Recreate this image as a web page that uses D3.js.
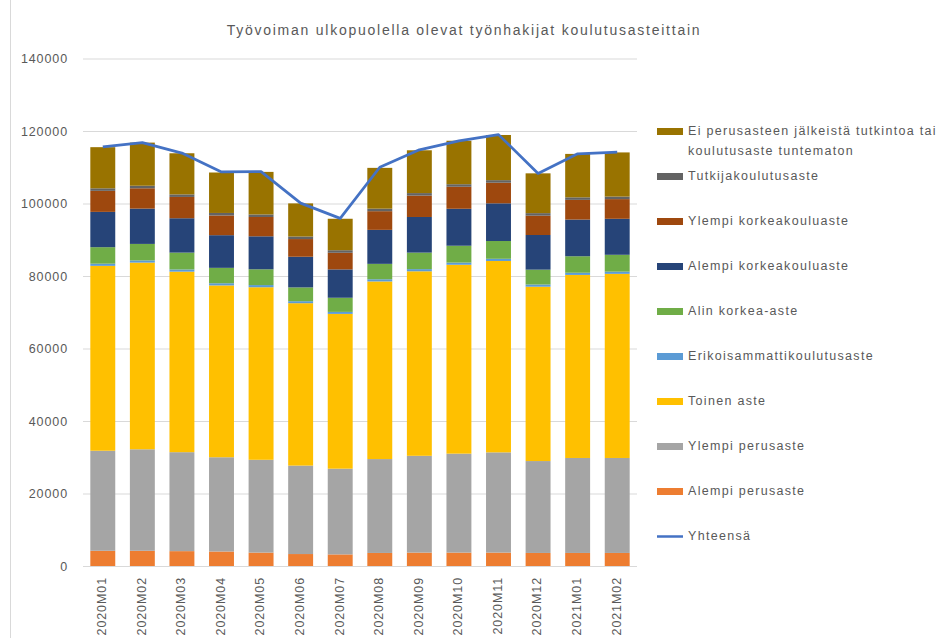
<!DOCTYPE html>
<html>
<head>
<meta charset="utf-8">
<script src="https://cdn.jsdelivr.net/npm/d3@7"></script>
<style>
  body { margin: 0; background: #fff; }
  text { font-family: "Liberation Sans", "DejaVu Sans", sans-serif; fill: #595959; }
</style>
</head>
<body>
<svg id="viz" width="946" height="638"></svg>
<script>
// ----------------------- DATA
const months = ['2020M01', '2020M02', '2020M03', '2020M04', '2020M05', '2020M06', '2020M07',
  '2020M08', '2020M09', '2020M10', '2020M11', '2020M12', '2021M01', '2021M02'];

// stack order bottom -> top
const alempiPerus = [4200, 4200, 4100, 4000, 3700, 3300, 3200, 3600, 3700, 3700, 3700, 3600, 3600, 3600];
const ylempiPerus = [27600, 28000, 27300, 26000, 25600, 24400, 23650, 25900, 26700, 27300, 27650, 25350, 26200, 26200];
const toinenAste = [51000, 51500, 49800, 47400, 47600, 44800, 42700, 49000, 50900, 52100, 52800, 48100, 50500, 50800];
const erikoisammatti = [600, 600, 600, 600, 600, 550, 550, 600, 600, 600, 600, 600, 600, 600];
const alinKorkea = [4550, 4550, 4650, 4250, 4350, 3800, 3900, 4250, 4550, 4650, 4900, 4100, 4550, 4650];
const alempiKorkea = [9740, 9740, 9480, 9010, 9100, 8460, 7820, 9380, 9830, 10200, 10400, 9560, 10120, 9930];
const ylempiKorkea = [5800, 5610, 5880, 5430, 5330, 4880, 4590, 5150, 5890, 6070, 5690, 5330, 5430, 5430];
const tutkija = [700, 700, 700, 700, 700, 700, 700, 700, 700, 700, 700, 700, 700, 700];
const eiPerus = [11350, 11900, 11350, 11160, 11740, 9140, 8680, 11250, 11810, 11990, 12460, 10980, 11980, 12180];
const yhteensa = [115600, 116800, 113900, 108700, 108800, 100100, 95900, 110000, 114800, 117300, 119000, 108300, 113700, 114200];

const yTicks = [0, 20000, 40000, 60000, 80000, 100000, 120000, 140000];

const series = [
  { name: 'Alempi perusaste', values: alempiPerus, color: '#ED7D31' },
  { name: 'Ylempi perusaste', values: ylempiPerus, color: '#A5A5A5' },
  { name: 'Toinen aste', values: toinenAste, color: '#FFC000' },
  { name: 'Erikoisammattikoulutusaste', values: erikoisammatti, color: '#5B9BD5' },
  { name: 'Alin korkea-aste', values: alinKorkea, color: '#70AD47' },
  { name: 'Alempi korkeakouluaste', values: alempiKorkea, color: '#264478' },
  { name: 'Ylempi korkeakouluaste', values: ylempiKorkea, color: '#9E480E' },
  { name: 'Tutkijakoulutusaste', values: tutkija, color: '#636363' },
  { name: 'Ei perusasteen jälkeistä tutkintoa tai|koulutusaste tuntematon', values: eiPerus, color: '#997300' }
];
const lineColor = '#4472C4';

// ----------------------- SETTINGS
const plot = { left: 83, right: 637, top: 58.5, bottom: 566 };

const svg = d3.select('#viz');

// chart frame (left edge visible)
svg.append('line')
  .attr('x1', 10.5).attr('x2', 10.5)
  .attr('y1', 0).attr('y2', 638)
  .attr('stroke', '#d9d9d9');

// title
svg.append('text')
  .attr('x', 464).attr('y', 31)
  .attr('text-anchor', 'middle')
  .attr('dominant-baseline', 'middle')
  .style('font-size', '14px')
  .style('letter-spacing', '1.75px')
  .text('Työvoiman ulkopuolella olevat työnhakijat koulutusasteittain');

// ----------------------- SCALES
const x = d3.scaleBand()
  .domain(months)
  .range([plot.left, plot.right])
  .paddingInner(0.37)
  .paddingOuter(0.185);

const y = d3.scaleLinear()
  .domain([0, 140000])
  .range([plot.bottom, plot.top]);

// y axis with gridlines
const yAxis = d3.axisLeft(y)
  .tickValues(yTicks)
  .tickSize(-(plot.right - plot.left))
  .tickPadding(15)
  .tickFormat(d3.format('d'));

const yg = svg.append('g')
  .attr('transform', `translate(${plot.left}, 0)`)
  .call(yAxis);
yg.select('.domain').remove();
yg.selectAll('line').attr('stroke', '#d9d9d9');
yg.selectAll('text')
  .style('font-size', '12.5px')
  .style('letter-spacing', '0.9px')
  .style('font-family', '"Liberation Sans", sans-serif')
  .attr('fill', '#595959');

// ----------------------- STACKED BARS
const table = months.map((m, i) => {
  const row = { month: m };
  series.forEach(s => { row[s.name] = s.values[i]; });
  return row;
});
const stacked = d3.stack().keys(series.map(s => s.name))(table);

svg.append('g').selectAll('g')
  .data(stacked)
  .enter().append('g')
  .attr('fill', (d, i) => series[i].color)
  .selectAll('rect')
  .data(d => d)
  .enter().append('rect')
  .attr('x', d => x(d.data.month))
  .attr('y', d => y(d[1]))
  .attr('height', d => y(d[0]) - y(d[1]))
  .attr('width', x.bandwidth());

// x baseline
svg.append('line')
  .attr('x1', plot.left).attr('x2', plot.right)
  .attr('y1', plot.bottom + 0.5).attr('y2', plot.bottom + 0.5)
  .attr('stroke', '#d9d9d9');

// ----------------------- TOTAL LINE
const line = d3.line()
  .x((d, i) => x(months[i]) + x.bandwidth() / 2)
  .y(d => y(d));

svg.append('path')
  .datum(yhteensa)
  .attr('d', line)
  .attr('fill', 'none')
  .attr('stroke', lineColor)
  .attr('stroke-width', 2.75)
  .attr('stroke-linejoin', 'round');

// x labels (rotated)
svg.append('g').selectAll('text')
  .data(months)
  .enter().append('text')
  .attr('transform', d => `translate(${x(d) + x.bandwidth() / 2}, 577) rotate(-90)`)
  .attr('text-anchor', 'end')
  .attr('dominant-baseline', 'middle')
  .style('font-size', '12.5px')
  .style('letter-spacing', '0.9px')
  .text(d => d);

// ----------------------- LEGEND
const legendItems = series.slice().reverse();
const legendY0 = 131.5, legendStep = 45;

const legend = svg.append('g');
legendItems.forEach((s, i) => {
  const yy = legendY0 + (i === 0 ? 0 : 45 + (i - 1) * legendStep);
  legend.append('rect')
    .attr('x', 657).attr('y', yy - 3.5)
    .attr('width', 26).attr('height', 7)
    .attr('fill', s.color);
  const lines = s.name.split('|');
  lines.forEach((t, j) => {
    legend.append('text')
      .attr('x', 688).attr('y', yy + j * 20)
      .attr('dominant-baseline', 'middle')
      .style('font-size', '12.5px')
      .style('letter-spacing', '1.3px')
      .text(t);
  });
});
// Yhteensä
const lastY = legendY0 + 45 + (legendItems.length - 1) * legendStep;
legend.append('line')
  .attr('x1', 657).attr('x2', 683)
  .attr('y1', lastY).attr('y2', lastY)
  .attr('stroke', lineColor)
  .attr('stroke-width', 2.5);
legend.append('text')
  .attr('x', 688).attr('y', lastY)
  .attr('dominant-baseline', 'middle')
  .style('font-size', '12.5px')
  .style('letter-spacing', '1.3px')
  .text('Yhteensä');
</script>
</body>
</html>
